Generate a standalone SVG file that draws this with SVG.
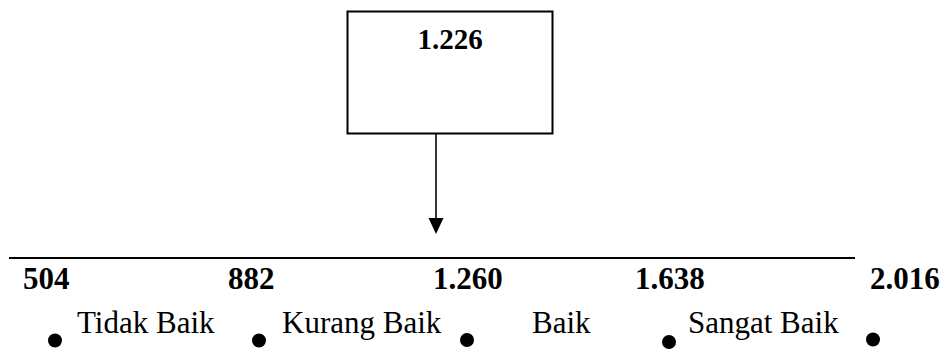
<svg xmlns="http://www.w3.org/2000/svg" width="944" height="349" viewBox="0 0 944 349">
<style>
.num{font-family:"Liberation Serif",serif;font-weight:bold;font-size:31px;fill:#000}
.lbl{font-family:"Liberation Serif",serif;font-size:31px;fill:#000}
.dot{fill:#000}
</style>
<rect width="944" height="349" fill="#fff"/>
<g id="box">
<rect x="347.5" y="11.5" width="205" height="122" fill="#fff" stroke="#000" stroke-width="2"/>
<text class="num" x="450" y="49" text-anchor="middle" style="font-size:29px">1.226</text>
</g>
<g id="connectors">
<line x1="436" y1="134" x2="436" y2="220" stroke="#000" stroke-width="1.6"/>
<polygon points="428.5,218 443.5,218 436,234" fill="#000"/>
</g>
<g id="scale">
<line x1="9" y1="258" x2="855" y2="258" stroke="#000" stroke-width="2"/>
<text class="num" x="23" y="289">504</text>
<text class="num" x="228" y="289">882</text>
<text class="num" x="433" y="289">1.260</text>
<text class="num" x="635" y="289">1.638</text>
<text class="num" x="870" y="289">2.016</text>
<text class="lbl" x="77" y="333">Tidak Baik</text>
<text class="lbl" x="282" y="333">Kurang Baik</text>
<text class="lbl" x="532" y="333">Baik</text>
<text class="lbl" x="688" y="333">Sangat Baik</text>
<circle class="dot" cx="55" cy="340.5" r="7"/>
<circle class="dot" cx="259" cy="340.5" r="7"/>
<circle class="dot" cx="467" cy="340" r="7"/>
<circle class="dot" cx="669" cy="342" r="7"/>
<circle class="dot" cx="873" cy="339.5" r="7"/>
</g>
</svg>
